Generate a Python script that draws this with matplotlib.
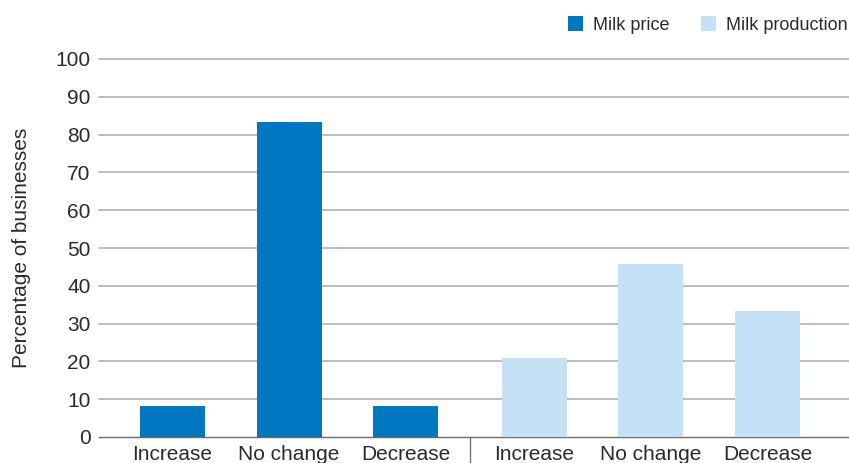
import numpy as np
import matplotlib
matplotlib.use("Agg")
import matplotlib.pyplot as plt

plt.rcParams['font.family'] = ['Liberation Sans', 'DejaVu Sans']

categories = ["Increase", "No change", "Decrease"]
milk_price = [8.3, 83.3, 8.3]
milk_production = [20.8, 45.8, 33.3]
series_names = ["Milk price", "Milk production"]
yticks = list(range(0, 101, 10))

dark_blue = "#0077c1"
light_blue = "#c5e1f5"
text_color = "#2a2a2a"
grid_color = "#ababab"

fig = plt.figure(figsize=(8.49, 4.63), dpi=100)
ax = fig.add_axes([99 / 849, (463 - 437) / 463, 750 / 849, (437 - 59) / 463])

n = len(categories)
group_gap = 0.107
pos_a = np.arange(n)
pos_b = np.arange(n) + n + group_gap
width = 0.558

b1 = ax.bar(pos_a, milk_price, width=width, color=dark_blue, zorder=3, label=series_names[0])
b2 = ax.bar(pos_b, milk_production, width=width, color=light_blue, zorder=3, label=series_names[1])

ax.set_xlim(-0.631, 5.807)
ax.set_ylim(0, 100)
ax.set_yticks(yticks)
ax.set_xticks(np.concatenate([pos_a, pos_b]))
ax.set_xticklabels(categories + categories)

for y in yticks[1:]:
    ax.axhline(y, color=grid_color, lw=1.1, zorder=1, clip_on=False)

for s in ["top", "right", "left"]:
    ax.spines[s].set_visible(False)
ax.spines["bottom"].set_color("#6a6a6a")
ax.spines["bottom"].set_linewidth(1.0)

# separator between the two groups
sep_x = (pos_a[-1] + pos_b[0]) / 2
ax.plot([sep_x, sep_x], [0, -10], color="#6a6a6a", lw=0.9, clip_on=False, zorder=4)

ax.tick_params(axis="both", length=0, labelsize=15, colors=text_color)
ax.tick_params(axis="x", pad=6)
ax.tick_params(axis="y", pad=6)
ax.set_ylabel("Percentage of businesses", fontsize=15, color=text_color, labelpad=18)

leg = fig.legend(handles=[b1, b2], labels=series_names, loc="upper right",
                 bbox_to_anchor=(1.018, 1.0), ncol=2, frameon=False, fontsize=13,
                 handlelength=0.85, handleheight=0.85, handletextpad=0.55,
                 columnspacing=1.75, labelcolor=text_color)

fig.savefig("out.png", dpi=100)
